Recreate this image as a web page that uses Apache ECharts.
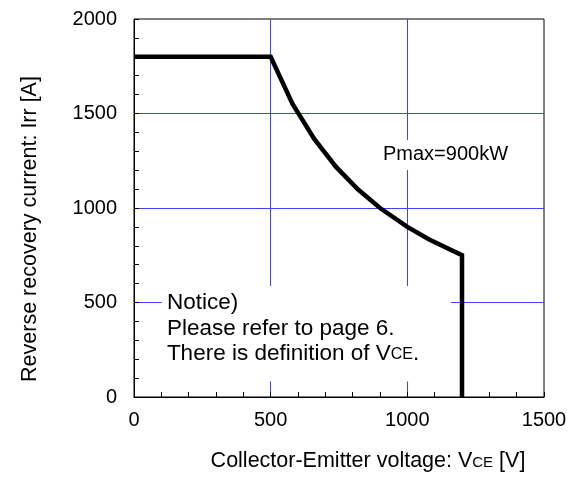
<!DOCTYPE html>
<html>
<head>
<meta charset="utf-8">
<script src="https://cdn.jsdelivr.net/npm/echarts@6/dist/echarts.min.js"></script>
<style>
  html, body { margin: 0; padding: 0; background: #fff; }
  #chart { width: 576px; height: 477px; }
</style>
</head>
<body>
<div id="chart"></div>
<script>
// RBSOA curve: collector-emitter voltage [V] vs reverse recovery current [A]
const voltage = [0, 500, 580, 660, 740, 820, 900, 1000, 1080, 1200, 1200];
const current = [1800, 1800, 1550, 1364, 1216, 1098, 1000, 900, 833, 750, 0];

const xTicks = [0, 500, 1000, 1500];
const yTicks = [0, 500, 1000, 1500, 2000];

// annotation anchors (top-left corner of each text box, in data units)
const pmaxAnchor = [900, 1360];
const noticeAnchor = [102, 587];

const FONT = '"Liberation Sans", Arial, sans-serif';
const GRID_BLUE = '#4040ff';

const chart = echarts.init(document.getElementById('chart'), null, { renderer: 'canvas' });

const curve = voltage.map((v, i) => [v, current[i]]);

const option = {
  animation: false,
  backgroundColor: '#fff',
  textStyle: { fontFamily: FONT },
  grid: {
    left: 134, right: 32, top: 19, bottom: 73,
    show: true, borderColor: '#000', borderWidth: 1
  },
  xAxis: {
    type: 'value',
    min: xTicks[0], max: xTicks[xTicks.length - 1], interval: 500,
    name: 'Collector-Emitter voltage: V{sub|CE} [V]',
    nameLocation: 'middle',
    nameGap: 53,
    nameTextStyle: {
      color: '#000', fontSize: 21.5, fontFamily: FONT,
      padding: [0, 0, 0, 58],
      rich: {
        sub: { fontSize: 15, fontFamily: FONT, color: '#000', verticalAlign: 'bottom', padding: [0, 0, 2, 0] }
      }
    },
    axisLine: { show: true, lineStyle: { color: '#000', width: 1 } },
    axisTick: { show: true, inside: true, length: 5, lineStyle: { color: '#000' } },
    minorTick: { show: true, splitNumber: 5, length: 5, lineStyle: { color: '#000' } },
    axisLabel: { color: '#000', fontSize: 20, fontFamily: FONT, margin: 13, formatter: v => String(v) },
    splitLine: { show: true, showMinLine: false, showMaxLine: false, lineStyle: { color: GRID_BLUE, width: 1 } }
  },
  yAxis: {
    type: 'value',
    min: yTicks[0], max: yTicks[yTicks.length - 1], interval: 500,
    name: 'Reverse recovery current: Irr [A]',
    nameLocation: 'middle',
    nameGap: 93,
    nameTextStyle: {
      color: '#000', fontSize: 21.5, fontFamily: FONT,
      padding: [0, 42, 0, 0]
    },
    axisLine: { show: true, lineStyle: { color: '#000', width: 1 } },
    axisTick: { show: true, inside: true, length: 5, lineStyle: { color: '#000' } },
    minorTick: { show: true, splitNumber: 5, length: 5, lineStyle: { color: '#000' } },
    axisLabel: { color: '#000', fontSize: 20, fontFamily: FONT, margin: 17, formatter: v => String(v) },
    splitLine: { show: true, showMinLine: false, showMaxLine: false, lineStyle: { color: GRID_BLUE, width: 1 } }
  },
  series: [
    {
      name: 'annotations',
      type: 'scatter',
      symbolSize: 0,
      silent: true,
      z: 1,
      itemStyle: { opacity: 1 },
      data: [
        {
          value: pmaxAnchor,
          label: {
            show: true, position: [0, 0], align: 'left', verticalAlign: 'top',
            formatter: 'Pmax=900kW',
            color: '#000', fontSize: 20, fontFamily: FONT,
            backgroundColor: '#fff', padding: [4, 6, 4, 3], lineHeight: 22
          }
        },
        {
          value: noticeAnchor,
          label: {
            show: true, position: [0, 0], align: 'left', verticalAlign: 'top',
            formatter: 'Notice)\nPlease refer to page 6.\nThere is definition of V{sub|CE}.',
            color: '#000', fontSize: 22.5, fontFamily: FONT, lineHeight: 25.5,
            backgroundColor: '#fff', padding: [4, 32, 15, 5],
            rich: {
              sub: { fontSize: 16, fontFamily: FONT, color: '#000', verticalAlign: 'bottom', padding: [0, 0, 4, 0] }
            }
          }
        }
      ]
    },
    {
      name: 'Pmax=900kW',
      type: 'line',
      data: curve,
      symbol: 'none',
      z: 3,
      lineStyle: { color: '#000', width: 4.5, join: 'miter' }
    }
  ]
};

chart.setOption(option);
</script>
</body>
</html>
